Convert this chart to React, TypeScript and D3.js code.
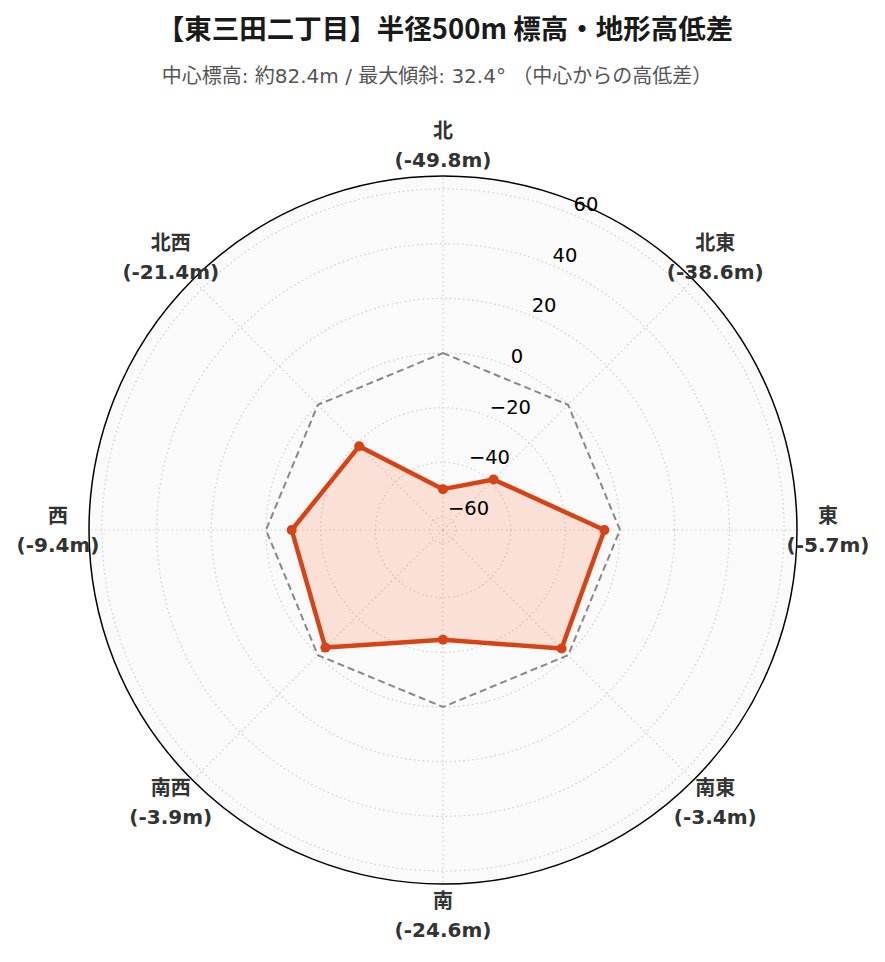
import { useEffect, useRef } from "react";
import * as d3 from "d3";

const directions = ["北", "北東", "東", "南東", "南", "南西", "西", "北西"];
const elevDiff = [-49.8, -38.6, -5.7, -3.4, -24.6, -3.9, -9.4, -21.4];
const radialTicks = [-60, -40, -20, 0, 20, 40, 60];
const titleText = "【東三田二丁目】半径500m 標高・地形高低差";
const subtitleText = "中心標高: 約82.4m / 最大傾斜: 32.4° （中心からの高低差）";

export default function App() {
  const ref = useRef<SVGSVGElement>(null);

  useEffect(() => {
    if (!ref.current) return;
    const el = ref.current;
    const width = 885;
    const height = 962;
    const cx = 443;
    const cy = 530;
    const R = 354;

    d3.select(el).selectAll("*").remove();
    const svg = d3.select(el).attr("width", width).attr("height", height);

    const lim = d3.max(elevDiff, (d) => Math.abs(d))! * 1.3;
    const r = d3.scaleLinear().domain([-lim, lim]).range([0, R]);
    const angle = d3
      .scalePoint<string>()
      .domain(directions)
      .range([0, 2 * Math.PI * (1 - 1 / directions.length)]);

    const px = (a: number, rr: number) => [Math.sin(a) * rr, -Math.cos(a) * rr];

    const g = svg.append("g").attr("transform", `translate(${cx},${cy})`);

    // plot background
    g.append("circle").attr("r", R).attr("fill", "#fafafa");

    // grid circles
    g.selectAll(".grid-c")
      .data(radialTicks)
      .join("circle")
      .attr("r", (d) => r(d))
      .attr("fill", "none")
      .attr("stroke", "#cfcfcf")
      .attr("stroke-width", 1.2)
      .attr("stroke-dasharray", "1.5 3");

    // grid spokes
    g.selectAll(".grid-s")
      .data(directions)
      .join("line")
      .attr("x1", 0)
      .attr("y1", 0)
      .attr("x2", (d) => px(angle(d)!, R)[0])
      .attr("y2", (d) => px(angle(d)!, R)[1])
      .attr("stroke", "#cfcfcf")
      .attr("stroke-width", 1.2)
      .attr("stroke-dasharray", "1.5 3");

    // zero reference
    const radial = d3
      .lineRadial<number>()
      .angle((_, i) => angle(directions[i])!)
      .radius((d) => r(d))
      .curve(d3.curveLinearClosed);

    g.append("path")
      .attr("d", radial(directions.map(() => 0)))
      .attr("fill", "none")
      .attr("stroke", "#888888")
      .attr("stroke-width", 2)
      .attr("stroke-dasharray", "7 4");

    // data polygon
    g.append("path")
      .attr("d", radial(elevDiff))
      .attr("fill", "#ff7852")
      .attr("fill-opacity", 0.2)
      .attr("stroke", "#d84315")
      .attr("stroke-width", 4.5)
      .attr("stroke-linejoin", "round");

    g.selectAll(".pt")
      .data(elevDiff)
      .join("circle")
      .attr("cx", (d, i) => px(angle(directions[i])!, r(d))[0])
      .attr("cy", (d, i) => px(angle(directions[i])!, r(d))[1])
      .attr("r", 5)
      .attr("fill", "#d84315");

    // outer frame
    g.append("circle")
      .attr("r", R)
      .attr("fill", "none")
      .attr("stroke", "#000")
      .attr("stroke-width", 1.5);

    // radial tick labels
    const la = Math.PI / 8;
    g.selectAll(".rt")
      .data(radialTicks)
      .join("text")
      .attr("x", (d) => px(la, r(d))[0])
      .attr("y", (d) => px(la, r(d))[1] - 10)
      .attr("dominant-baseline", "central")
      .attr("text-anchor", "start")
      .style("font-family", "'DejaVu Sans', sans-serif")
      .style("font-size", "19.5px")
      .style("fill", "#000")
      .text((d) => (d < 0 ? `\u2212${Math.abs(d)}` : String(d)));

    // direction labels
    const labels = g
      .selectAll(".dl")
      .data(directions)
      .join("text")
      .attr("text-anchor", "middle")
      .style("font-family", "'DejaVu Sans', 'Noto Sans CJK JP', sans-serif")
      .style("font-weight", "bold")
      .style("font-size", "20px")
      .style("fill", "#333333");
    labels.each(function (d, i) {
      const [x, y] = px(angle(d)!, 385);
      const t = d3.select(this);
      t.append("tspan").attr("x", x).attr("y", y - 14.5).attr("dominant-baseline", "central").text(d);
      t.append("tspan")
        .attr("x", x)
        .attr("y", y + 14.5)
        .attr("dominant-baseline", "central")
        .text(`(${elevDiff[i].toFixed(1)}m)`);
    });

    // titles
    svg
      .append("text")
      .attr("x", 445)
      .attr("y", 27)
      .attr("text-anchor", "middle")
      .attr("dominant-baseline", "central")
      .style("font-family", "'Noto Sans CJK JP', sans-serif")
      .style("font-weight", "bold")
      .style("font-size", "27.5px")
      .style("fill", "#1a1a1a")
      .text(titleText);

    svg
      .append("text")
      .attr("x", 437)
      .attr("y", 76)
      .attr("text-anchor", "middle")
      .attr("dominant-baseline", "central")
      .style("font-family", "'DejaVu Sans', 'Noto Sans CJK JP', sans-serif")
      .style("font-size", "20px")
      .style("fill", "#555555")
      .text(subtitleText);
  }, []);

  return (
    <svg
      ref={ref}
      style={{ position: "absolute", left: 0, top: 0, display: "block", background: "#fff" }}
    />
  );
}
